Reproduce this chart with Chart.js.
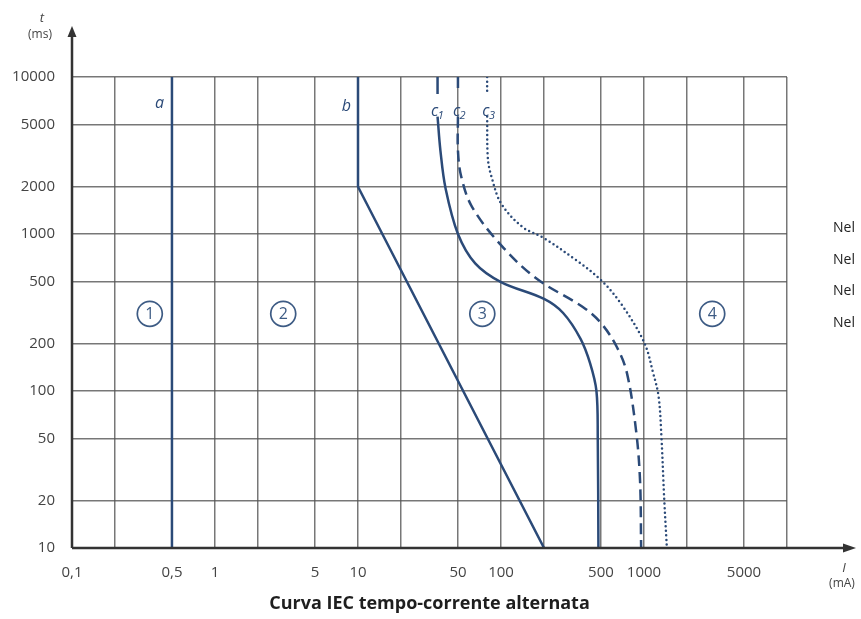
<!DOCTYPE html>
<html>
<head>
<meta charset="utf-8">
<script src="https://cdn.jsdelivr.net/npm/chart.js@4"></script>
<style>
  html, body { margin: 0; padding: 0; background: #fff; }
</style>
</head>
<body>
<canvas id="chart" width="861" height="619"></canvas>
<script>
// ticks
const currentTicks = [0.1, 0.2, 0.5, 1, 2, 5, 10, 20, 50, 100, 200, 500, 1000, 2000, 5000, 10000];
const currentLabels = ['0,1', '', '0,5', '1', '', '5', '10', '', '50', '100', '', '500', '1000', '', '5000', ''];
const timeTicks = [10, 20, 50, 100, 200, 500, 1000, 2000, 5000, 10000];
const timeLabels = ['10', '20', '50', '100', '200', '500', '1000', '2000', '5000', '10000'];

// curves (current in mA, time in ms; null = gap for the label)
const aCurrent = [0.5, 0.5];
const aTime = [10000, 10];
const bCurrent = [10, 10, 200];
const bTime = [10000, 2000, 10];
const c1Current = [36, 36, 36, 36, 37.7, 41, 50, 66, 100, 200, 272, 360, 420, 465, 475, 480];
const c1Time = [10000, 7800, null, 5600, 3400, 1940, 1000, 650, 494, 386, 314, 215, 150, 100, 50, 10];
const c2Current = [50, 50, 50, 50, 50, 52.7, 62.7, 100, 177, 371, 500, 647, 760, 880, 938, 955];
const c2Time = [10000, 7800, null, 5600, 3400, 2320, 1490, 850, 520, 344, 271, 190, 130, 56, 27, 10];
const c3Current = [80, 80, 80, 80, 81, 86, 100, 141, 200, 334, 500, 687, 1000, 1159, 1265, 1324, 1383, 1445];
const c3Time = [10000, 7800, null, 5600, 3000, 2300, 1570, 1110, 940, 683, 509, 362, 205, 130, 92, 51, 21, 10];

// curve labels
const curveNames = ['a', 'b', 'c', 'c', 'c'];
const curveSubs = ['', '', '1', '2', '3'];
const curveLabelCurrent = [0.41, 8.3, 35.5, 50.5, 81];
const curveLabelTime = [6800, 6500, 6000, 6000, 6000];

// zones
const zoneNames = ['1', '2', '3', '4'];
const zoneCurrent = [0.35, 3, 74, 3000];
const zoneTime = [310, 310, 310, 310];

const sideTexts = ['Nel', 'Nel', 'Nel', 'Nel'];

const blue = '#2b4a78';
const fontFam = "'Open Sans', sans-serif";

function pts(xs, ys) {
    return xs.map((x, i) => ({ x: x, y: ys[i] }));
}

const extras = {
    id: 'extras',
    afterDraw(chart) {
        const ctx = chart.ctx;
        const xs = chart.scales.x, ys = chart.scales.y;
        const area = chart.chartArea;
        ctx.save();

        // axes with arrows
        ctx.strokeStyle = '#333';
        ctx.fillStyle = '#333';
        ctx.lineWidth = 2.5;
        ctx.beginPath();
        ctx.moveTo(area.left, area.bottom);
        ctx.lineTo(area.left, 34);
        ctx.moveTo(area.left, area.bottom);
        ctx.lineTo(845, area.bottom);
        ctx.stroke();
        ctx.beginPath();
        ctx.moveTo(area.left, 26);
        ctx.lineTo(area.left - 4.5, 37);
        ctx.lineTo(area.left + 4.5, 37);
        ctx.closePath();
        ctx.fill();
        ctx.beginPath();
        ctx.moveTo(856, area.bottom);
        ctx.lineTo(843, area.bottom - 4.5);
        ctx.lineTo(843, area.bottom + 4.5);
        ctx.closePath();
        ctx.fill();

        // axis titles
        ctx.fillStyle = '#444';
        ctx.textAlign = 'center';
        ctx.textBaseline = 'middle';
        ctx.font = 'italic 13px ' + fontFam;
        ctx.fillText('t', 42, 18);
        ctx.fillText('I', 844, 568);
        ctx.font = '12px ' + fontFam;
        ctx.fillText('(ms)', 40, 35);
        ctx.fillText('(mA)', 842, 584);

        // curve labels
        ctx.fillStyle = blue;
        curveNames.forEach((n, i) => {
            const px = xs.getPixelForValue(curveLabelCurrent[i]);
            const py = ys.getPixelForValue(curveLabelTime[i]);
            ctx.font = 'italic 16px ' + fontFam;
            ctx.textAlign = 'center';
            ctx.fillText(n, px - (curveSubs[i] ? 2 : 0), py);
            if (curveSubs[i]) {
                ctx.font = 'italic 11px ' + fontFam;
                ctx.fillText(curveSubs[i], px + 4, py + 4);
            }
        });

        // zone circles
        ctx.strokeStyle = '#3d5b84';
        ctx.fillStyle = '#3d5b84';
        ctx.lineWidth = 1.7;
        ctx.font = '16px ' + fontFam;
        zoneNames.forEach((n, i) => {
            const px = xs.getPixelForValue(zoneCurrent[i]);
            const py = ys.getPixelForValue(zoneTime[i]);
            ctx.beginPath();
            ctx.arc(px, py, 12.5, 0, Math.PI * 2);
            ctx.stroke();
            ctx.fillText(n, px, py + 1);
        });

        // title
        ctx.fillStyle = '#1e1e1e';
        ctx.font = 'bold 18px ' + fontFam;
        ctx.fillText('Curva IEC tempo-corrente alternata', (area.left + area.right) / 2, 604);

        // cut text on the right
        ctx.fillStyle = '#222';
        ctx.font = '14px ' + fontFam;
        ctx.textAlign = 'left';
        sideTexts.forEach((s, i) => ctx.fillText(s, 833, 228 + i * 31.7));

        ctx.restore();
    }
};

const gridColor = 'rgba(85,85,85,0.8)';
const tickFont = { family: fontFam, size: 15 };

new Chart(document.getElementById('chart'), {
    type: 'line',
    data: {
        datasets: [
            { data: pts(aCurrent, aTime), borderColor: blue, borderWidth: 2.5, tension: 0 },
            { data: pts(bCurrent, bTime), borderColor: blue, borderWidth: 2.5, tension: 0 },
            { data: pts(c1Current, c1Time), borderColor: blue, borderWidth: 2.5, tension: 0.35 },
            { data: pts(c2Current, c2Time), borderColor: blue, borderWidth: 2.5, tension: 0.35, borderDash: [11, 6] },
            { data: pts(c3Current, c3Time), borderColor: blue, borderWidth: 2.5, tension: 0.35, borderDash: [0, 4.6], borderCapStyle: 'round' }
        ]
    },
    options: {
        responsive: false,
        animation: false,
        devicePixelRatio: 1,
        spanGaps: false,
        elements: { point: { radius: 0 } },
        layout: { padding: { left: 0, right: 74, top: 77, bottom: 0 } },
        plugins: { legend: { display: false }, tooltip: { enabled: false } },
        scales: {
            x: {
                type: 'logarithmic',
                min: 0.1,
                max: 10000,
                afterBuildTicks: s => { s.ticks = currentTicks.map(v => ({ value: v })); },
                afterFit: s => { s.height = 71; },
                ticks: {
                    autoSkip: false,
                    maxRotation: 0,
                    padding: 16,
                    color: '#444',
                    font: tickFont,
                    callback: (v, i) => currentLabels[i]
                },
                grid: { color: gridColor, lineWidth: 1.5, drawTicks: false },
                border: { display: false }
            },
            y: {
                type: 'logarithmic',
                min: 10,
                max: 10000,
                afterBuildTicks: s => { s.ticks = timeTicks.map(v => ({ value: v })); },
                afterFit: s => { s.width = 72; },
                ticks: {
                    autoSkip: false,
                    padding: 17,
                    color: '#444',
                    font: tickFont,
                    callback: (v, i) => timeLabels[i]
                },
                grid: { color: gridColor, lineWidth: 1.5, drawTicks: false },
                border: { display: false }
            }
        }
    },
    plugins: [extras]
});
</script>
</body>
</html>
